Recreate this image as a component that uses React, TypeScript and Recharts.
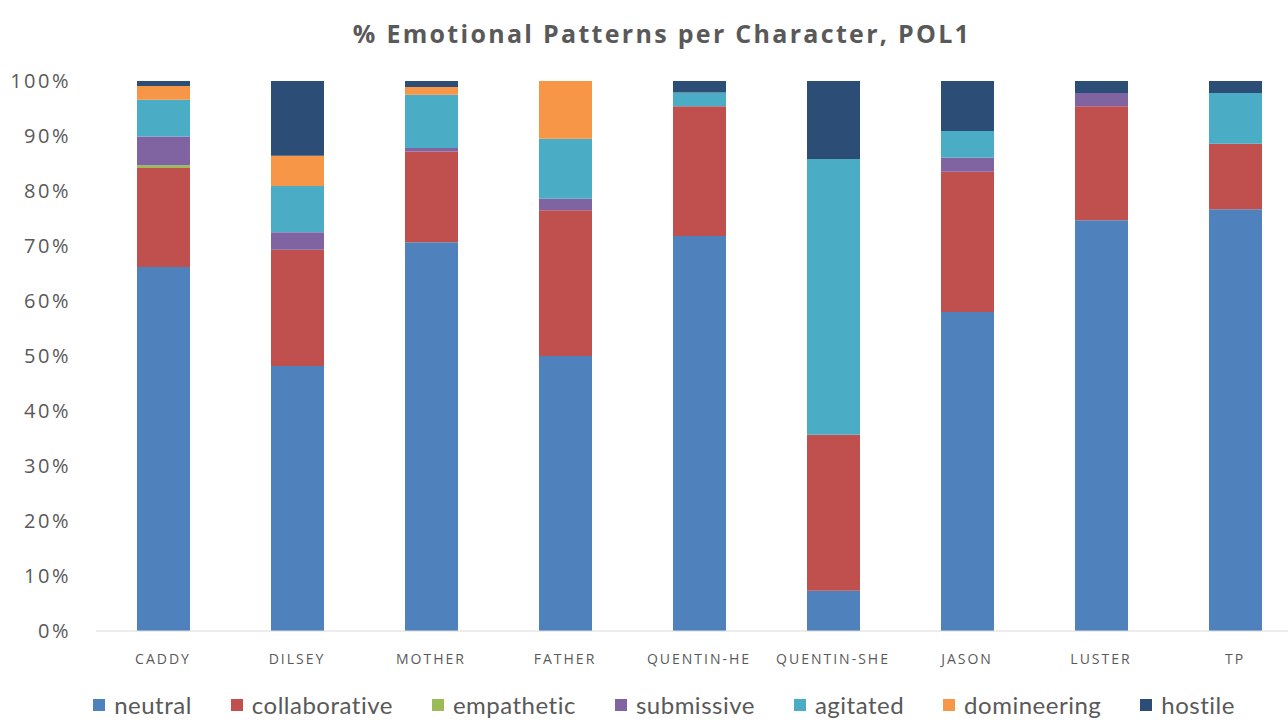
import React from "react";
import { BarChart, Bar, XAxis, YAxis, Legend } from "recharts";

const CATEGORIES = ["CADDY", "DILSEY", "MOTHER", "FATHER", "QUENTIN-HE", "QUENTIN-SHE", "JASON", "LUSTER", "TP"];

// percentages per character
const NEUTRAL = [66.2, 48.2, 70.7, 50.0, 71.8, 7.3, 58.0, 74.7, 76.7];
const COLLABORATIVE = [18.0, 21.1, 16.5, 26.5, 23.6, 28.4, 25.5, 20.7, 11.9];
const EMPATHETIC = [0.5, 0, 0, 0, 0, 0, 0, 0, 0];
const SUBMISSIVE = [5.2, 3.2, 0.6, 2.1, 0, 0, 2.6, 2.4, 0];
const AGITATED = [6.7, 8.4, 9.7, 10.9, 2.5, 50.1, 4.8, 0, 9.2];
const DOMINEERING = [2.5, 5.5, 1.4, 10.5, 0, 0, 0, 0, 0];
const HOSTILE = [0.9, 13.6, 1.1, 0, 2.1, 14.2, 9.1, 2.2, 2.2];

const Y_TICKS = [0, 10, 20, 30, 40, 50, 60, 70, 80, 90, 100];

const SERIES = [
  { key: "neutral", values: NEUTRAL, color: "#4F81BD" },
  { key: "collaborative", values: COLLABORATIVE, color: "#C0504D" },
  { key: "empathetic", values: EMPATHETIC, color: "#9BBB59" },
  { key: "submissive", values: SUBMISSIVE, color: "#8064A2" },
  { key: "agitated", values: AGITATED, color: "#4BACC6" },
  { key: "domineering", values: DOMINEERING, color: "#F79646" },
  { key: "hostile", values: HOSTILE, color: "#2C4D75" },
];

const data = CATEGORIES.map((name, i) => {
  const row: { [key: string]: string | number } = { name };
  SERIES.forEach((s) => {
    row[s.key] = s.values[i];
  });
  return row;
});

const TEXT = "#595959";

const renderLegend = () => (
  <div
    style={{
      height: 40,
      paddingTop: 10,
      boxSizing: "border-box",
      display: "flex",
      justifyContent: "center",
      paddingLeft: 26,
      fontFamily: "Lato, sans-serif",
      fontSize: 24,
      letterSpacing: 0.5,
      color: TEXT,
      lineHeight: "30px",
    }}
  >
    {SERIES.map((s, i) => (
      <div
        key={s.key}
        style={{ display: "flex", alignItems: "center", marginRight: i === SERIES.length - 1 ? 0 : 39 }}
      >
        <div style={{ width: 12, height: 12, backgroundColor: s.color, marginRight: 9 }} />
        <span>{s.key}</span>
      </div>
    ))}
  </div>
);

const App: React.FC = () => {
  return (
    <div
      style={{
        position: "absolute",
        left: 0,
        top: 0,
        width: 1288,
        height: 720,
        overflow: "hidden",
        background: "#fff",
      }}
    >
      <div
        style={{
          position: "absolute",
          top: 16,
          left: 0,
          width: 1324,
          textAlign: "center",
          fontFamily: "'Open Sans', sans-serif",
          fontWeight: 700,
          fontSize: 25,
          letterSpacing: 2.3,
          color: TEXT,
        }}
      >
        % Emotional Patterns per Character, POL1
      </div>
      <BarChart
        width={1310}
        height={720}
        data={data}
        margin={{ top: 81, right: 8, bottom: 0, left: 0 }}
        barSize={53}
      >
        <XAxis
          dataKey="name"
          height={49}
          tickLine={false}
          axisLine={{ stroke: "#D9D9D9" }}
          interval={0}
          tick={{ fill: TEXT, fontSize: 14, fontFamily: "'Open Sans', sans-serif", letterSpacing: 2 }}
          tickMargin={17}
        />
        <YAxis
          width={96}
          domain={[0, 100]}
          ticks={Y_TICKS}
          tickFormatter={(v: number) => `${v}%`}
          axisLine={false}
          tickLine={false}
          tickSize={0}
          tickMargin={25}
          tick={{ fill: TEXT, fontSize: 20, fontFamily: "'Open Sans', sans-serif", letterSpacing: 2.5 }}
        />
        <Legend verticalAlign="bottom" content={renderLegend} />
        {SERIES.map((s) => (
          <Bar key={s.key} dataKey={s.key} stackId="a" fill={s.color} isAnimationActive={false} />
        ))}
      </BarChart>
    </div>
  );
};

export default App;
